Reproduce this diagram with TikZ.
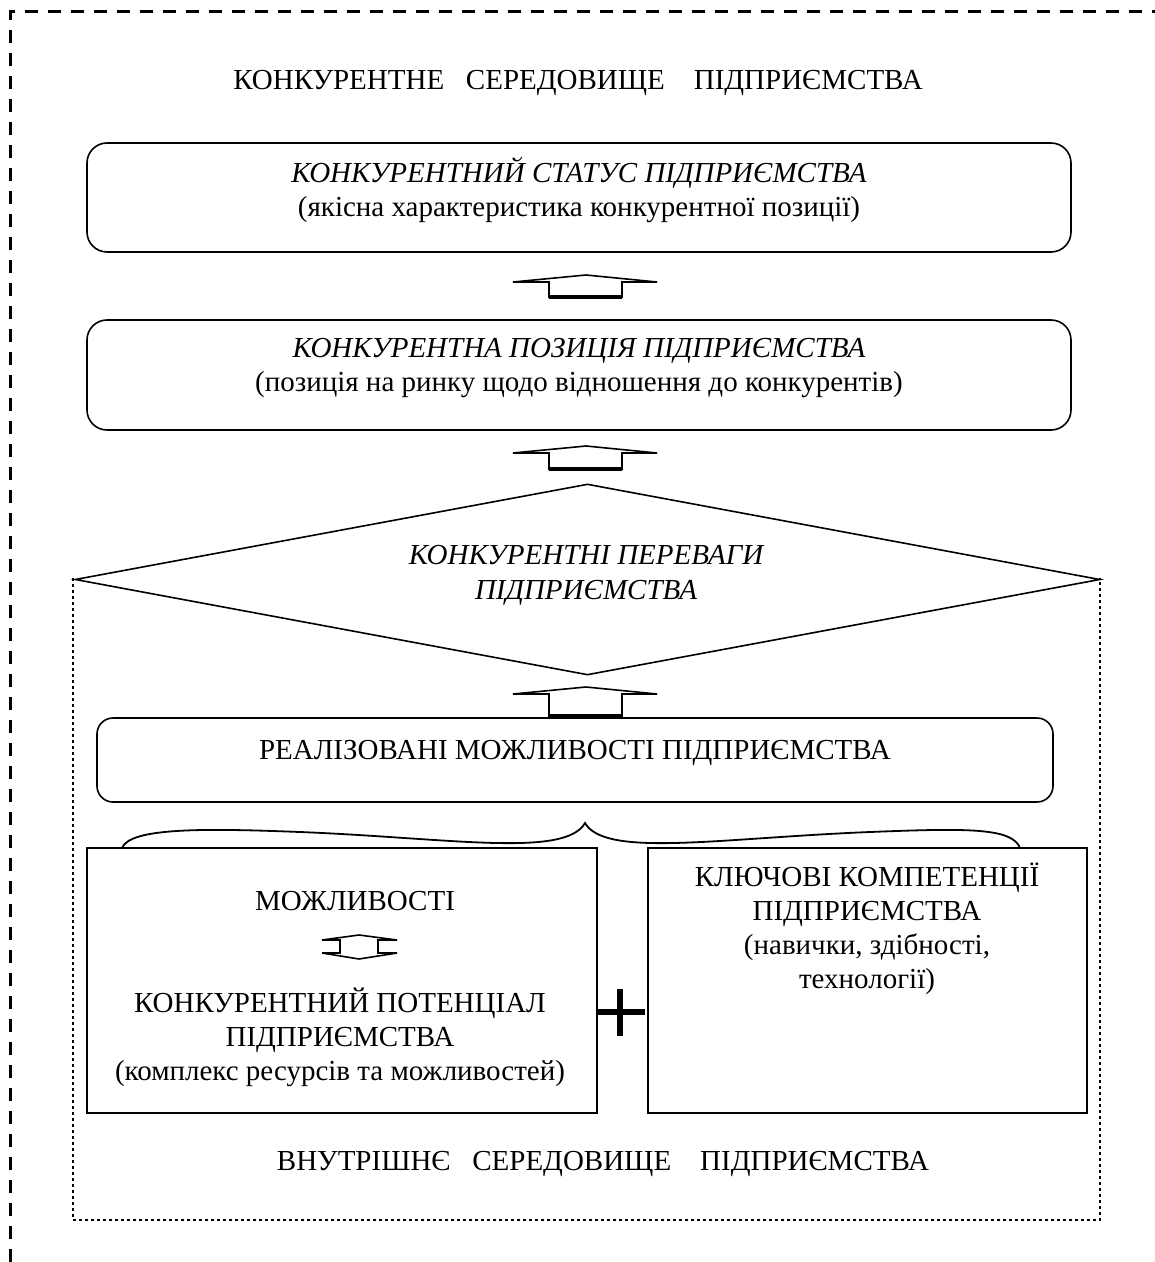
\documentclass[tikz,border=0pt]{standalone}
\usepackage{fontspec}
\setmainfont{Liberation Serif}
\usetikzlibrary{shapes.geometric}

\begin{document}
\begin{tikzpicture}[x=0.5pt,y=-0.5pt,line join=miter,
  font=\fontsize{14.5}{17}\selectfont,
  rbox/.style={draw,line width=0.8pt,rounded corners=10pt,inner sep=0pt},
  sbox/.style={draw,line width=0.8pt,inner sep=0pt},
  txt/.style={align=center,inner sep=0pt},
  blockarrow/.style={draw,line width=0.8pt,fill=white}]
\useasboundingbox (0,0) rectangle (1155,1262);
% environment borders
\draw[line width=1.5pt,dash pattern=on 6.5pt off 5pt] (10,1262) -- (10,12) -- (1155,12);
\draw[line width=1.4pt,dash pattern=on 1.5pt off 1.5pt] (73,578) -- (73,1220) -- (1100,1220) -- (1100,578);
\node[txt] (env) at (578,83) {КОНКУРЕНТНЕ\ \ \ СЕРЕДОВИЩЕ\ \ \ \ ПІДПРИЄМСТВА};
\node[txt] (inner) at (603,1164) {ВНУТРІШНЄ\ \ \ СЕРЕДОВИЩЕ\ \ \ \ ПІДПРИЄМСТВА};
% status and position
\node[rbox,minimum width=492pt,minimum height=54.5pt] (stat) at (579,197.5) {};
\node[txt] (stattext) at (579,190) {\textit{КОНКУРЕНТНИЙ СТАТУС ПІДПРИЄМСТВА}\\(якісна характеристика конкурентної позиції)};
\node[rbox,minimum width=492pt,minimum height=55pt] (pos) at (579,375) {};
\node[txt] (postext) at (579,368.5) {\textit{КОНКУРЕНТНА ПОЗИЦІЯ ПІДПРИЄМСТВА}\\(позиція на ринку щодо відношення до конкурентів)};
% advantages
\node[draw,diamond,line width=0.8pt,fill=white,inner sep=0pt,minimum width=512.5pt,minimum height=95.5pt] (adv) at (587.5,579.5) {};
\node[txt,font=\fontsize{14.5}{17.5}\selectfont\itshape] (advtext) at (586,575.5) {КОНКУРЕНТНІ ПЕРЕВАГИ\\ПІДПРИЄМСТВА};
\node[rbox,rounded corners=8pt,minimum width=478pt,minimum height=42pt] (real) at (575,760) {};
\node[txt] (realtext) at (575,753) {РЕАЛІЗОВАНІ МОЖЛИВОСТІ ПІДПРИЄМСТВА};
% block arrows
\foreach \yb/\hs in {297/15,469/16,716/22} {
  \draw[blockarrow] (549,\yb) -- (549,{\yb-\hs}) -- (513,{\yb-\hs}) -- (586,{\yb-\hs-7})
    -- (657,{\yb-\hs}) -- (622,{\yb-\hs}) -- (622,\yb) -- cycle;
  \draw[line width=2.2pt] (549,\yb) -- (622,\yb);
}
% brace
\draw[line width=0.9pt] (122,848) .. controls (130,828) and (200,828) .. (300,832)
  .. controls (450,838) and (565,858) .. (585,823)
  .. controls (605,858) and (720,838) .. (870,832)
  .. controls (970,828) and (1012,828) .. (1020,848);
% resources and competences
\node[sbox,minimum width=255pt,minimum height=132.5pt] (res) at (342,980.5) {};
\node[sbox,minimum width=219.5pt,minimum height=132.5pt] (comp) at (867.5,980.5) {};
\node[txt] (opp) at (355,901) {МОЖЛИВОСТІ};
\draw[blockarrow] (340,940) -- (322,940) -- (359,935) -- (397,940) -- (378,940) -- (378,953)
  -- (397,953) -- (359,959) -- (322,953) -- (340,953) -- cycle;
\node[txt] (pot) at (340,1037) {КОНКУРЕНТНИЙ ПОТЕНЦІАЛ\\ПІДПРИЄМСТВА\\(комплекс ресурсів та можливостей)};
\node[txt] (comptext) at (867,929) {КЛЮЧОВІ КОМПЕТЕНЦІЇ\\ПІДПРИЄМСТВА\\(навички, здібності,\\технології)};
\draw[line width=3.2pt] (596,1012) -- (645,1012) (620,989) -- (620,1036);
\end{tikzpicture}
\end{document}
